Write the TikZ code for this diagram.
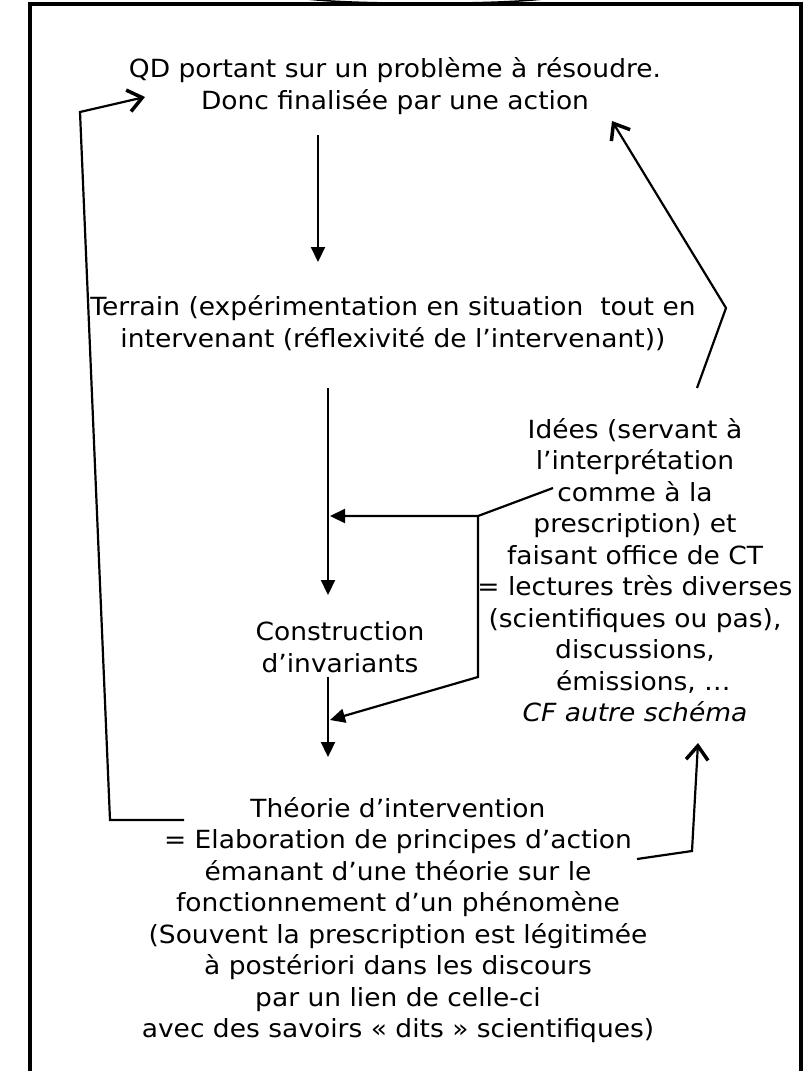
\documentclass[tikz,border=0pt]{standalone}
\usepackage{fontspec}
\setmainfont{DejaVu Sans}[FakeStretch=1.06]
\usetikzlibrary{arrows.meta}
\begin{document}
\begin{tikzpicture}[x=1pt,y=-1pt,
  txt/.style={align=center,font=\fontsize{25}{31.5}\selectfont,inner sep=0pt},
  ln/.style={line width=2.2pt},
  fa/.style={ln,-{Triangle[length=15pt,width=14pt]}},
  ba/.style={ln,-{Straight Barb[length=14pt,width=22pt,line width=3.5pt]}}]
\useasboundingbox (0,0) rectangle (808,1071);
\clip (0,0) rectangle (808,1071);
% frame and top curve
\draw[line width=3.5pt] (30,4) rectangle (801,1100);
\draw[line width=1.5pt] (300,-2) .. controls (340,5) and (510,5) .. (550,-2);
% texts
\node[txt] (qd) at (395,86) {QD portant sur un problème à résoudre.\\Donc finalisée par une action};
\node[txt] (terrain) at (393,323) {Terrain (expérimentation en situation\ \ tout en\\intervenant (réflexivité de l’intervenant))};
\node[txt] (constr) at (340,647) {Construction\\d’invariants};
\node[txt] (theorie) at (398,920) {Théorie d’intervention\\= Elaboration de principes d’action\\émanant d’une théorie sur le\\fonctionnement d’un phénomène\\(Souvent la prescription est légitimée\\à postériori dans les discours\\par un lien de celle-ci\\avec des savoirs «~dits~» scientifiques)};
\node[txt] (idees) at (635,570) {Idées (servant à\\l’interprétation\\comme à la\\prescription) et\\faisant office de CT\\= lectures très diverses\\(scientifiques ou pas),\\discussions,\\\ \ émissions, …\\\textit{CF autre schéma}};
% coordinates
\coordinate (a1) at (318,135);
\coordinate (a2) at (318,262);
\coordinate (b1) at (328,388);
\coordinate (b2) at (328,595);
\coordinate (c1) at (328,677);
\coordinate (c2) at (328,757);
\coordinate (i0) at (553,488);
\coordinate (j1) at (478,516);
\coordinate (j2) at (478,677);
\coordinate (t1) at (330,516);
\coordinate (t2) at (330,720);
\coordinate (u0) at (697,388);
\coordinate (u1) at (726,308);
\coordinate (u2) at (612,121);
\coordinate (l0) at (184,820);
\coordinate (l1) at (110,820);
\coordinate (l2) at (80,112);
\coordinate (l3) at (145,97);
\coordinate (r0) at (637,859);
\coordinate (r1) at (692,851);
\coordinate (r2) at (698,743);
% connectors
\draw[fa] (a1) -- (a2);
\draw[fa] (b1) -- (b2);
\draw[fa] (c1) -- (c2);
\draw[fa] (i0) -- (j1) -- (t1);
\draw[fa] (j1) -- (j2) -- (t2);
\draw[ba] (u0) -- (u1) -- (u2);
\draw[ba] (l0) -- (l1) -- (l2) -- (l3);
\draw[ba] (r0) -- (r1) -- (r2);
\end{tikzpicture}
\end{document}
